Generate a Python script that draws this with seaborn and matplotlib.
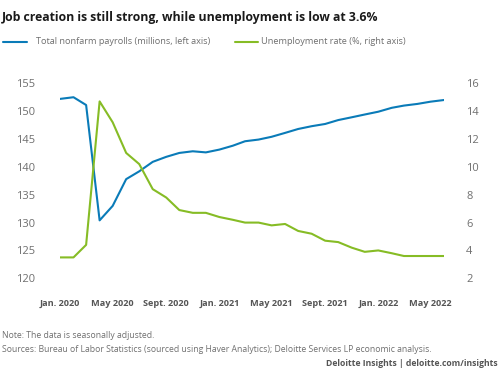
import matplotlib
matplotlib.use("Agg")
import matplotlib.pyplot as plt
import pandas as pd
import seaborn as sns

sns.set_theme(style="white")
plt.rcParams["font.family"] = ["Open Sans", "DejaVu Sans"]

# Datos mensuales, enero 2020 - junio 2022
months = pd.date_range("2020-01-01", "2022-06-01", freq="MS")
payrolls = [152.2, 152.5, 151.1, 130.4, 133.0, 137.8, 139.2, 140.9, 141.8, 142.5,
            142.8, 142.6, 143.1, 143.8, 144.6, 144.9, 145.4, 146.1, 146.8, 147.3,
            147.7, 148.4, 148.9, 149.4, 149.9, 150.6, 151.0, 151.3, 151.7, 152.0]
unemployment = [3.5, 3.5, 4.4, 14.7, 13.2, 11.0, 10.2, 8.4, 7.8, 6.9,
                6.7, 6.7, 6.4, 6.2, 6.0, 6.0, 5.8, 5.9, 5.4, 5.2,
                4.7, 4.6, 4.2, 3.9, 4.0, 3.8, 3.6, 3.6, 3.6, 3.6]
tick_months = pd.to_datetime(["2020-01-01", "2020-05-01", "2020-09-01", "2021-01-01",
                              "2021-05-01", "2021-09-01", "2022-01-01", "2022-05-01"])
tick_labels = ["Jan. 2020", "May 2020", "Sept. 2020", "Jan. 2021",
               "May 2021", "Sept. 2021", "Jan. 2022", "May 2022"]

BLUE = "#0A7BB8"
GREEN = "#86BC25"
GREY = "#6f6f6f"

df = pd.DataFrame({"month": months, "payrolls": payrolls, "unemployment": unemployment})

fig = plt.figure(figsize=(5, 3.8), dpi=100)
ax = fig.add_axes([60 / 500, 1 - 278.3 / 380, 384 / 500, 195 / 380])
ax2 = ax.twinx()

sns.lineplot(data=df, x="month", y="payrolls", ax=ax, color=BLUE, lw=1.5)
sns.lineplot(data=df, x="month", y="unemployment", ax=ax2, color=GREEN, lw=1.5)

ax.set_xlim(months[0], months[-1])
ax.set_ylim(120, 155)
ax2.set_ylim(2, 16)
ax.set_yticks(range(120, 156, 5))
ax2.set_yticks(range(2, 17, 2))
ax.set_xticks(tick_months)
ax.set_xticklabels(tick_labels, fontsize=6.6, fontweight="bold", color="#555555")
ax.tick_params(axis="x", pad=15, length=0)
ax.tick_params(axis="y", labelsize=8, colors=GREY, length=0, pad=18)
ax2.tick_params(axis="y", labelsize=8, colors=GREY, length=0, pad=16)
for a in (ax, ax2):
    a.set_xlabel("")
    a.set_ylabel("")
    for s in a.spines.values():
        s.set_visible(False)

fig.text(0.004, 1 - 17 / 380, "Job creation is still strong, while unemployment is low at 3.6%",
         fontsize=8.8, fontweight="bold", color="#1a1a1a", va="center")

# leyenda manual
fig.add_artist(plt.Line2D([3 / 500, 27 / 500], [1 - 42 / 380] * 2, color=BLUE, lw=1.5))
fig.text(36 / 500, 1 - 42 / 380, "Total nonfarm payrolls (millions, left axis)",
         fontsize=6.6, color=GREY, va="center")
fig.add_artist(plt.Line2D([235 / 500, 258 / 500], [1 - 42 / 380] * 2, color=GREEN, lw=1.5))
fig.text(261 / 500, 1 - 42 / 380, "Unemployment rate (%, right axis)",
         fontsize=6.6, color=GREY, va="center")

fig.text(0.004, 1 - 336 / 380, "Note: The data is seasonally adjusted.",
         fontsize=6.2, color=GREY, va="center")
fig.text(0.004, 1 - 350 / 380,
         "Sources: Bureau of Labor Statistics (sourced using Haver Analytics); Deloitte Services LP economic analysis.",
         fontsize=6.2, color=GREY, va="center")
fig.text(0.996, 1 - 364 / 380, "Deloitte Insights | deloitte.com/insights",
         fontsize=6.2, fontweight="bold", color="#555555", va="center", ha="right")

fig.savefig("out.png", dpi=100)
